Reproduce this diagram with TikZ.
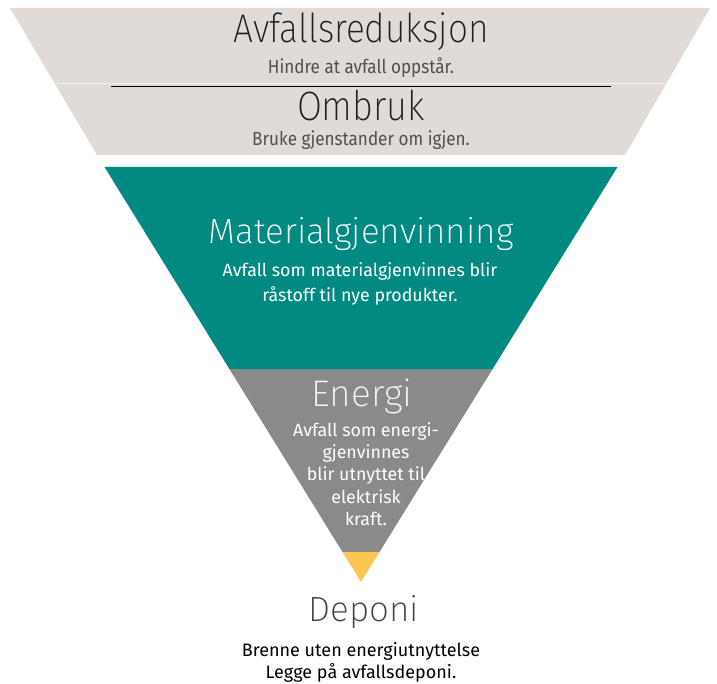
\documentclass[tikz,border=0pt]{standalone}
\usepackage{fontspec}
\IfFontExistsTF{Fira Sans ExtraLight}{%
  \newfontfamily\thinf{Fira Sans ExtraLight}%
  \newfontfamily\thincond[FakeStretch=0.88]{Fira Sans ExtraLight}%
}{%
  \IfFontExistsTF{Fira Sans Light}{%
    \newfontfamily\thinf{Fira Sans Light}%
    \newfontfamily\thincond[FakeStretch=0.88]{Fira Sans Light}%
  }{%
    \newfontfamily\thinf{Fira Sans}%
    \newfontfamily\thincond[FakeStretch=0.88]{Fira Sans}%
  }%
}
\newfontfamily\bodyf{Fira Sans}
\newfontfamily\condf[FakeStretch=0.9]{Fira Sans}
\definecolor{topgray}{HTML}{E0DBD7}
\definecolor{teal}{HTML}{008A82}
\definecolor{midgray}{HTML}{8A8A8A}
\definecolor{gold}{HTML}{FFC552}
\definecolor{darktxt}{HTML}{1E1E1E}
\definecolor{subtxt}{HTML}{505050}
\begin{document}
\begin{tikzpicture}[x=1pt,y=-1pt,
  ttl/.style={inner sep=0pt,anchor=center},
  txt/.style={inner sep=0pt,anchor=center,align=center}]
\useasboundingbox (0,0) rectangle (717,684);
% bands
\fill[topgray] (10,8) -- (710,8) -- (625,155) -- (97,155) -- cycle;
\draw[line width=0.8pt,color=white!60!topgray] (56,83) -- (665,83);
\fill[teal] (104.5,167) -- (617.5,167) -- (492.6,369) -- (229.4,369) -- cycle;
\fill[midgray] (229.4,369) -- (492.6,369) -- (379.5,552) -- (342.5,552) -- cycle;
\fill[gold] (342.5,552) -- (379.5,552) -- (361,582) -- cycle;
% separator line
\coordinate (sepL) at (111,86.5);
\coordinate (sepR) at (611,86.5);
\draw[line width=1pt,black] (sepL) -- (sepR);
% texts
\node[ttl,text=darktxt,font=\thincond\fontsize{40}{42}\selectfont] (t1) at (361,32) {Avfallsreduksjon};
\node[ttl,text=subtxt,font=\condf\fontsize{19}{21}\selectfont] (s1) at (361,68) {Hindre at avfall oppstår.};
\node[ttl,text=darktxt,font=\thincond\fontsize{41}{43}\selectfont] (t2) at (361,106) {Ombruk};
\node[ttl,text=subtxt,font=\condf\fontsize{19}{21}\selectfont] (s2) at (361,140) {Bruke gjenstander om igjen.};
\node[ttl,text=white,font=\thinf\fontsize{35}{37}\selectfont] (t3) at (361,234) {Materialgjenvinning};
\node[txt,text=white,font=\bodyf\fontsize{17.8}{25}\selectfont] (s3) at (360,284) {Avfall som materialgjenvinnes blir\\råstoff til nye produkter.};
\node[ttl,text=white!92!midgray,font=\thinf\fontsize{37}{39}\selectfont] (t4) at (362,396) {Energi};
\node[txt,text=white,font=\bodyf\fontsize{17.8}{22.3}\selectfont] (s4) at (366,474) {Avfall som energi-\\gjenvinnes\\blir utnyttet til\\elektrisk\\kraft.};
\node[ttl,text=darktxt!85!white,font=\thinf\fontsize{35}{37}\selectfont] (t5) at (364,612) {Deponi};
\node[txt,text=black,font=\bodyf\fontsize{18}{22}\selectfont] (s5) at (361,662) {Brenne uten energiutnyttelse\\Legge på avfallsdeponi.};
\end{tikzpicture}
\end{document}
